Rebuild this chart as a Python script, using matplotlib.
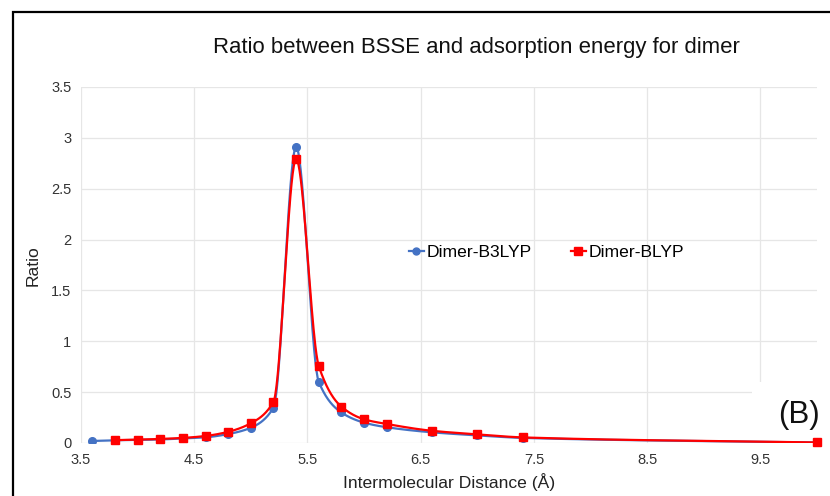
import numpy as np
import matplotlib
matplotlib.use('Agg')
import matplotlib.pyplot as plt
from matplotlib.patches import Rectangle

plt.rcParams['font.family'] = ['Liberation Sans', 'DejaVu Sans']

# data
dist_b3lyp = [3.6, 3.8, 4.0, 4.2, 4.4, 4.6, 4.8, 5.0, 5.2, 5.4, 5.6, 5.8, 6.0, 6.2, 6.6, 7.0, 7.4, 10.0]
ratio_b3lyp = [0.02, 0.027, 0.03, 0.035, 0.045, 0.056, 0.088, 0.15, 0.347, 2.91, 0.60, 0.30, 0.20, 0.155, 0.105, 0.075, 0.05, 0.005]

dist_blyp = [3.8, 4.0, 4.2, 4.4, 4.6, 4.8, 5.0, 5.2, 5.4, 5.6, 5.8, 6.0, 6.2, 6.6, 7.0, 7.4, 10.0]
ratio_blyp = [0.028, 0.033, 0.04, 0.05, 0.069, 0.11, 0.194, 0.406, 2.79, 0.756, 0.357, 0.233, 0.187, 0.12, 0.085, 0.055, 0.005]

xticks = [3.5, 4.5, 5.5, 6.5, 7.5, 8.5, 9.5]
yticks = [0, 0.5, 1, 1.5, 2, 2.5, 3, 3.5]
xlim = (3.5, 10.0)
ylim = (0, 3.5)


def smooth(x, y, n=40):
    # monotone cubic (fritsch-carlson) so the smoothed line has no overshoot
    x = np.asarray(x, float)
    y = np.asarray(y, float)
    h = np.diff(x)
    d = np.diff(y) / h
    m = np.zeros_like(y)
    m[0], m[-1] = d[0], d[-1]
    for i in range(1, len(x) - 1):
        if d[i - 1] * d[i] <= 0:
            m[i] = 0
        else:
            w1 = 2 * h[i] + h[i - 1]
            w2 = h[i] + 2 * h[i - 1]
            m[i] = (w1 + w2) / (w1 / d[i - 1] + w2 / d[i])
    xs, ys = [x[0]], [y[0]]
    for i in range(len(x) - 1):
        t = np.linspace(0, 1, n)[1:]
        h00 = 2 * t ** 3 - 3 * t ** 2 + 1
        h10 = t ** 3 - 2 * t ** 2 + t
        h01 = -2 * t ** 3 + 3 * t ** 2
        h11 = t ** 3 - t ** 2
        xs.extend(x[i] + t * h[i])
        ys.extend(h00 * y[i] + h10 * h[i] * m[i] + h01 * y[i + 1] + h11 * h[i] * m[i + 1])
    return np.array(xs), np.array(ys)


fig = plt.figure(figsize=(8.3, 4.96), dpi=100)
ax = fig.add_axes([81 / 830, 1 - 443 / 496, 736 / 830, 356 / 496])

# frame round the chart, cut off at right and bottom
fig.patches.append(Rectangle((13 / 830, -0.1), 1.2, 1 - 12 / 496 + 0.1, transform=fig.transFigure,
                             fill=False, edgecolor='black', linewidth=1.6))

blue = '#4472C4'
red = '#FF0000'

xs, ys = smooth(dist_b3lyp, ratio_b3lyp)
ax.plot(xs, ys, color=blue, linewidth=1.6, zorder=3)
ax.plot(dist_b3lyp, ratio_b3lyp, linestyle='none', marker='o', markersize=5.5, color=blue, zorder=3)

xs, ys = smooth(dist_blyp, ratio_blyp)
ax.plot(xs, ys, color=red, linewidth=1.6, zorder=4)
ax.plot(dist_blyp, ratio_blyp, linestyle='none', marker='s', markersize=6, color=red, zorder=4, clip_on=False)

# legend handles
h1, = ax.plot([], [], color=blue, linewidth=1.6, marker='o', markersize=5)
h2, = ax.plot([], [], color=red, linewidth=1.6, marker='s', markersize=5.5)
ax.legend([h1, h2], ['Dimer-B3LYP', 'Dimer-BLYP'], ncol=2, frameon=False, loc='center left',
          bbox_to_anchor=(0.445, 0.536), handlelength=0.9, handletextpad=0.15, columnspacing=2.2,
          fontsize=12.6, borderpad=0, borderaxespad=0)

ax.set_xlim(*xlim)
ax.set_ylim(*ylim)
ax.set_xticks(xticks)
ax.set_xticklabels([str(v) for v in xticks])
ax.set_yticks(yticks)
ax.set_yticklabels(['0', '0.5', '1', '1.5', '2', '2.5', '3', '3.5'])
ax.tick_params(length=0, labelsize=10.5, colors='#333333', pad=7)
ax.grid(True, color='#e6e6e6', linewidth=0.9)
ax.set_axisbelow(True)
for s in ax.spines.values():
    s.set_visible(False)

# white box behind the (B) tag
ax.add_patch(Rectangle((9.43, 0.012), 1.0, 0.588, facecolor='white', edgecolor='none', zorder=2, clip_on=False))
fig.text(799 / 830, 1 - 415 / 496, '(B)', fontsize=22.5, ha='center', va='center', color='#111111')

fig.text(476 / 830, 1 - 47 / 496, 'Ratio between BSSE and adsorption energy for dimer',
         fontsize=15.9, ha='center', va='center', color='#111111')
fig.text(449 / 830, 1 - 482 / 496, 'Intermolecular Distance (Å)', fontsize=12.6,
         ha='center', va='center', color='#222222')
fig.text(33 / 830, 1 - 266 / 496, 'Ratio', fontsize=12.6, rotation=90,
         ha='center', va='center', color='#222222')

fig.savefig('out.png', dpi=100)
